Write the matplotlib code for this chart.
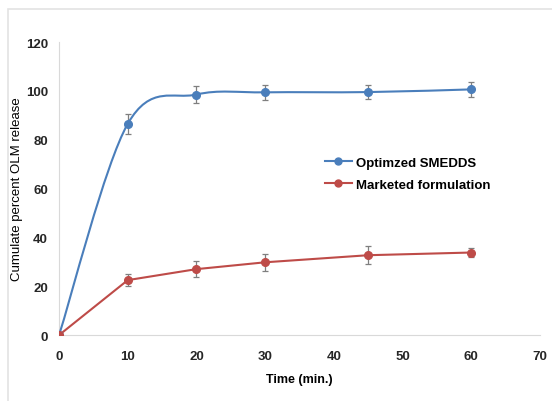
import matplotlib.pyplot as plt
import numpy as np
from matplotlib.path import Path
from matplotlib.patches import PathPatch, Rectangle
from matplotlib.lines import Line2D

time = [0, 10, 20, 30, 45, 60]
smedds = [0, 86.5, 98.5, 99.4, 99.5, 100.6]
smedds_err = [0, 4.0, 3.5, 3.2, 3.0, 3.0]
marketed = [0, 22.5, 27.0, 29.8, 32.7, 33.8]
marketed_err = [0, 2.6, 3.2, 3.5, 3.6, 1.8]

blue = "#4a7ebb"
red = "#be4b48"

plt.rcParams["font.family"] = ["Liberation Sans", "DejaVu Sans"]

fig = plt.figure(figsize=(5.52, 4.02), dpi=100)
ax = fig.add_axes([0.107, 0.164, 0.871, 0.729])

# outer chart border
fig.patches.append(Rectangle((8 / 552, -0.05), 1.2, 1 - 10 / 402 + 0.05,
                             transform=fig.transFigure, fill=False,
                             edgecolor="#e3e3e3", linewidth=1.2))


def smooth_path(x, y):
    # Excel-like smoothed line: cubic bezier with control points from neighbours
    x = np.asarray(x, float); y = np.asarray(y, float)
    verts = [(x[0], y[0])]
    codes = [Path.MOVETO]
    n = len(x)
    for i in range(n - 1):
        p0 = np.array([x[i - 1], y[i - 1]]) if i > 0 else np.array([x[i], y[i]])
        p1 = np.array([x[i], y[i]])
        p2 = np.array([x[i + 1], y[i + 1]])
        p3 = np.array([x[i + 2], y[i + 2]]) if i + 2 < n else p2
        c1 = p1 + (p2 - p0) / 6
        c2 = p2 - (p3 - p1) / 6
        verts += [tuple(c1), tuple(c2), tuple(p2)]
        codes += [Path.CURVE4] * 3
    return Path(verts, codes)


ax.add_patch(PathPatch(smooth_path(time, smedds), fill=False, edgecolor=blue, lw=1.5, zorder=3))
ax.plot(time, marketed, color=red, lw=1.5, zorder=3)

for y, e, c in [(smedds, smedds_err, blue), (marketed, marketed_err, red)]:
    ax.errorbar(time, y, yerr=e, fmt="none", ecolor="#7f7f7f", elinewidth=0.9,
                capsize=2.5, capthick=0.9, zorder=2)
    ax.plot(time, y, "o", color=c, ms=5.5, zorder=4)

ax.set_xlim(0, 70)
ax.set_ylim(0, 120)
ax.set_xticks(range(0, 71, 10))
ax.set_yticks(range(0, 121, 20))
for s in ["top", "right"]:
    ax.spines[s].set_visible(False)
ax.spines["left"].set_color("#d9d9d9")
ax.spines["bottom"].set_color("#d9d9d9")
ax.tick_params(axis="y", length=0, labelsize=9.5, pad=8, labelcolor="#262626")
ax.tick_params(axis="x", length=0, labelsize=9.5, pad=11, labelcolor="#262626")
for lab in ax.get_xticklabels() + ax.get_yticklabels():
    lab.set_fontweight("bold")

ax.set_xlabel("Time (min.)", fontsize=9, fontweight="bold", labelpad=8)
ax.set_ylabel("Cumulate percent OLM release", fontsize=9.5)
ax.yaxis.set_label_coords(-0.074, 0.5)

handles = [Line2D([], [], color=blue, marker="o", ms=5, lw=1.5),
           Line2D([], [], color=red, marker="o", ms=5, lw=1.5)]
ax.legend(handles, ["Optimzed SMEDDS", "Marketed formulation"], frameon=False,
          loc="upper left", bbox_to_anchor=(0.529, 0.65), prop={"weight": "bold", "size": 9.5},
          handlelength=2.0, handletextpad=0.3, labelspacing=0.75)

fig.savefig("out.png", dpi=100)
